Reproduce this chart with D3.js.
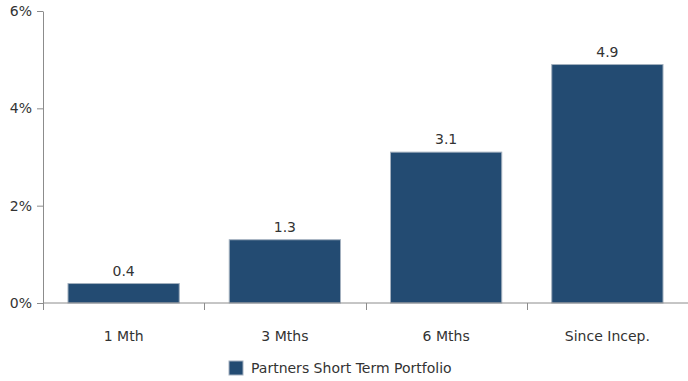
<!DOCTYPE html>
<html>
<head>
<meta charset="utf-8">
<script src="https://cdn.jsdelivr.net/npm/d3@7"></script>
<style>
  html, body { margin: 0; padding: 0; background: #fff; }
  svg { display: block; font-family: Verdana, "DejaVu Sans", sans-serif; }
</style>
</head>
<body>
<svg id="chart" width="688" height="381"></svg>
<script>
// Returns by period
const categories = ["1 Mth", "3 Mths", "6 Mths", "Since Incep."];
const values = [0.4, 1.3, 3.1, 4.9];
const seriesName = "Partners Short Term Portfolio";
const yTicks = [0, 2, 4, 6];

const svg = d3.select("#chart");
const margin = { left: 43, right: 0, top: 11, bottom: 78 };
const W = 688, H = 381;
const fontSize = 14;

const x = d3.scaleBand()
  .domain(categories)
  .range([margin.left, W - margin.right])
  .paddingInner(0.31)
  .paddingOuter(0.155);

const y = d3.scaleLinear()
  .domain([0, 6])
  .range([H - margin.bottom, margin.top]);

const axisColor = "#8c8c8c";
const textColor = "#333";

// Bars
svg.append("g")
  .selectAll("rect")
  .data(values)
  .join("rect")
  .attr("x", (d, i) => x(categories[i]))
  .attr("y", d => y(d))
  .attr("width", x.bandwidth())
  .attr("height", d => y(0) - y(d))
  .attr("fill", "#234b72")
  .attr("stroke", "#a3b0bf")
  .attr("stroke-width", 1);

// Value labels
svg.append("g")
  .selectAll("text")
  .data(values)
  .join("text")
  .attr("x", (d, i) => x(categories[i]) + x.bandwidth() / 2)
  .attr("y", d => y(d) - 8)
  .attr("text-anchor", "middle")
  .attr("font-size", fontSize)
  .attr("fill", textColor)
  .text(d => d.toFixed(1));

// Y axis
const yAxis = svg.append("g")
  .attr("transform", `translate(${margin.left},0)`)
  .call(d3.axisLeft(y).tickValues(yTicks).tickFormat(d => d + "%").tickSize(6).tickSizeOuter(0).tickPadding(5));
yAxis.select(".domain").attr("stroke", axisColor);
yAxis.selectAll(".tick line").attr("stroke", axisColor);
yAxis.selectAll(".tick text").attr("font-size", fontSize).attr("fill", textColor)
  .attr("font-family", "Verdana, 'DejaVu Sans', sans-serif");

// X axis: category labels centred in bands, ticks at band boundaries
const xAxis = svg.append("g")
  .attr("transform", `translate(0,${y(0)})`);
xAxis.append("line")
  .attr("x1", margin.left).attr("x2", W - margin.right)
  .attr("stroke", axisColor);
const boundaries = d3.range(categories.length + 1).map(i => margin.left + i * (W - margin.left - margin.right) / categories.length);
xAxis.selectAll(".xtick")
  .data(boundaries)
  .join("line")
  .attr("class", "xtick")
  .attr("x1", d => Math.round(d) + 0.5).attr("x2", d => Math.round(d) + 0.5)
  .attr("y1", 0).attr("y2", 7)
  .attr("stroke", axisColor);
xAxis.selectAll(".xlabel")
  .data(categories)
  .join("text")
  .attr("class", "xlabel")
  .attr("x", d => x(d) + x.bandwidth() / 2)
  .attr("y", 38)
  .attr("text-anchor", "middle")
  .attr("font-size", fontSize)
  .attr("fill", textColor)
  .text(d => d);

// Legend
const legend = svg.append("g").attr("transform", "translate(229,361)");
legend.append("rect")
  .attr("width", 14).attr("height", 14)
  .attr("fill", "#234b72").attr("stroke", "#a3b0bf");
legend.append("text")
  .attr("x", 22).attr("y", 12)
  .attr("font-size", fontSize)
  .attr("fill", textColor)
  .text(seriesName);
</script>
</body>
</html>
